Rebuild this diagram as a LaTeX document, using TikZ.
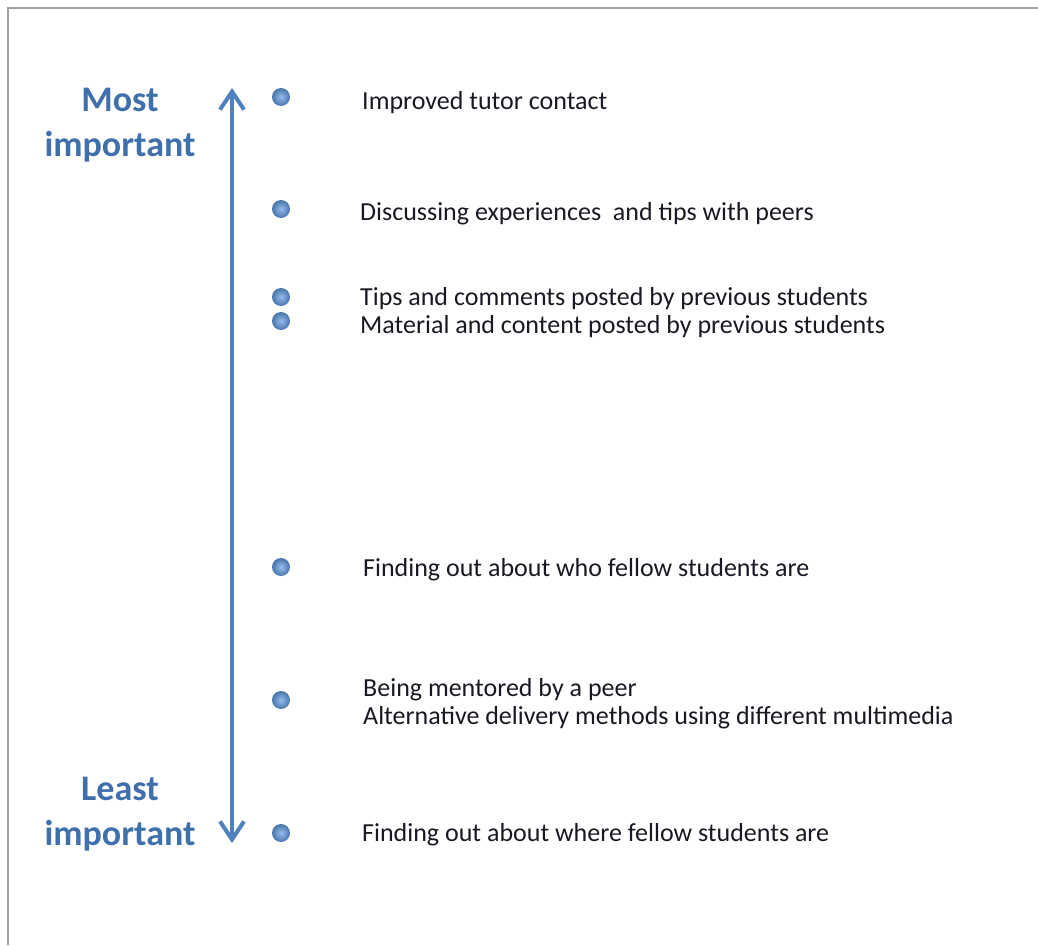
\documentclass[tikz,border=0pt]{standalone}
\usepackage{fontspec}
\setmainfont{Carlito}
\usetikzlibrary{arrows.meta}
\definecolor{steelblue}{RGB}{79,129,189}
\definecolor{ballblue}{RGB}{150,190,235}
\definecolor{labelblue}{RGB}{64,112,172}
\definecolor{framegray}{RGB}{160,160,160}
\definecolor{itemtext}{RGB}{25,25,35}

\begin{document}
\begin{tikzpicture}[x=1pt,y=-1pt,
    item/.style={anchor=west,font=\fontsize{26}{28}\selectfont,text=itemtext,align=left,inner sep=0pt},
    rank/.style={font=\fontsize{36}{45}\selectfont\bfseries,text=labelblue,align=center,inner sep=0pt},
    dot/.style={circle,minimum size=18pt,inner sep=0pt,inner color=ballblue,outer color=steelblue!90!black}]
  \useasboundingbox (0,0) rectangle (1038,945);
  \draw[framegray, line width=2pt] (8,945) -- (8,8) -- (1038,8);

  \node[rank] (most)  at (120,125) {Most\\important};
  \node[rank] (least) at (120,814) {Least\\important};

  \coordinate (top)    at (232,88);
  \coordinate (bottom) at (232,843);
  \draw[steelblue, line width=4pt,
        {Straight Barb[length=18pt,width=24pt]}-{Straight Barb[length=18pt,width=24pt]}] (top) -- (bottom);

  \node[dot] (d1) at (281,97)  {};
  \node[dot] (d2) at (281,209) {};
  \node[dot] (d3) at (281,297) {};
  \node[dot] (d4) at (281,321) {};
  \node[dot] (d5) at (281,567) {};
  \node[dot] (d6) at (281,700) {};
  \node[dot] (d7) at (281,833) {};

  \node[item] (t1) at (362,103) {Improved tutor contact};
  \node[item] (t2) at (360,214) {Discussing experiences\ \ and tips with peers};
  \node[item] (t3) at (360,299) {Tips and comments posted by previous students};
  \node[item] (t4) at (360,327) {Material and content posted by previous students};
  \node[item] (t5) at (363,570) {Finding out about who fellow students are};
  \node[item] (t6) at (363,704) {Being mentored by a peer\\Alternative delivery methods using different multimedia};
  \node[item] (t7) at (362,835) {Finding out about where fellow students are};
\end{tikzpicture}
\end{document}
